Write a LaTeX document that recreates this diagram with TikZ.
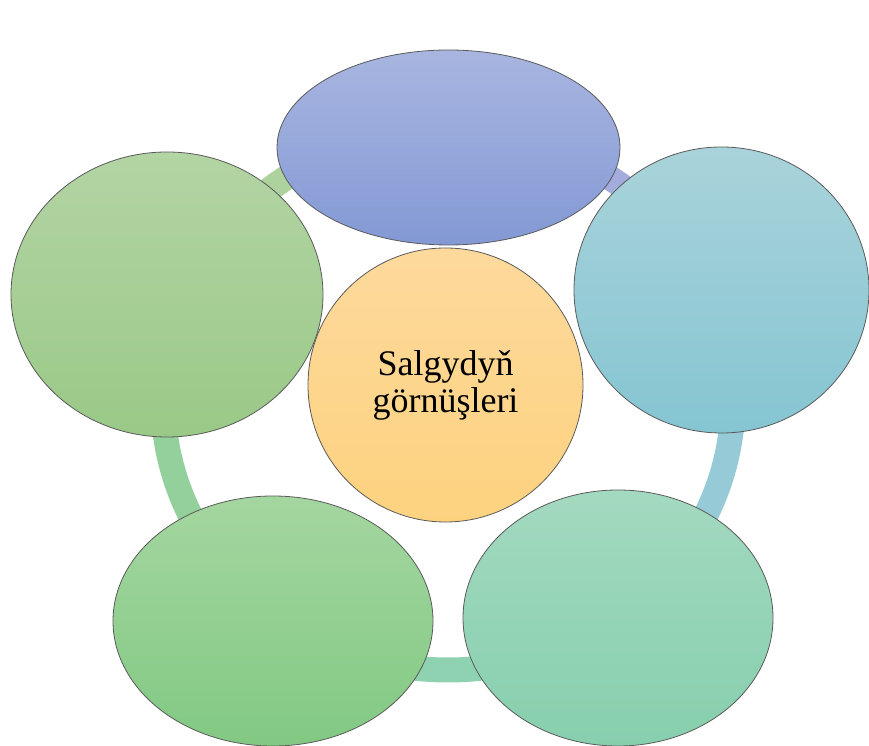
\documentclass[tikz,border=0pt]{standalone}
\usepackage{fontspec}
\setmainfont{Liberation Serif}
\usetikzlibrary{shapes.geometric}
\definecolor{ringTL}{HTML}{AED29E}
\definecolor{ringTR}{HTML}{A3ACDC}
\definecolor{ringR}{HTML}{96CAD6}
\definecolor{ringB}{HTML}{8ED2B2}
\definecolor{ringL}{HTML}{94D09C}
\definecolor{edge}{HTML}{5A5A5A}
\tikzset{
  blob/.style={ellipse, draw=edge, line width=0.8pt, inner sep=0pt},
  ringseg/.style={line width=25pt, line cap=butt},
}
\begin{document}
\begin{tikzpicture}[x=1pt,y=1pt]
\useasboundingbox (0,0) rectangle (869,746);
\coordinate (rc) at (448,346);
% ring segments
\draw[ringseg, ringTR] ([shift={(18:285pt and 270pt)}]rc) arc[start angle=18, end angle=90, x radius=285pt, y radius=270pt];
\draw[ringseg, ringTL] ([shift={(90:285pt and 270pt)}]rc) arc[start angle=90, end angle=162, x radius=285pt, y radius=270pt];
\draw[ringseg, ringL] ([shift={(162:285pt and 270pt)}]rc) arc[start angle=162, end angle=234, x radius=285pt, y radius=270pt];
\draw[ringseg, ringB] ([shift={(234:285pt and 270pt)}]rc) arc[start angle=234, end angle=306, x radius=285pt, y radius=270pt];
\draw[ringseg, ringR] ([shift={(306:285pt and 270pt)}]rc) arc[start angle=306, end angle=378, x radius=285pt, y radius=270pt];
% outer nodes
\node[blob, minimum width=343pt, minimum height=195pt, top color={rgb,255:red,168;green,181;blue,224}, bottom color={rgb,255:red,131;green,153;blue,212}] (top) at (448.5,598.5) {};
\node[blob, minimum width=295pt, minimum height=286pt, top color={rgb,255:red,169;green,211;blue,218}, bottom color={rgb,255:red,133;green,197;blue,210}] (right) at (721.5,456) {};
\node[blob, minimum width=310pt, minimum height=256pt, top color={rgb,255:red,163;green,217;blue,192}, bottom color={rgb,255:red,134;green,207;blue,173}] (bright) at (618,128) {};
\node[blob, minimum width=320pt, minimum height=250pt, top color={rgb,255:red,164;green,214;blue,160}, bottom color={rgb,255:red,130;green,201;blue,131}] (bleft) at (273,125) {};
\node[blob, minimum width=312pt, minimum height=285pt, top color={rgb,255:red,179;green,212;blue,164}, bottom color={rgb,255:red,154;green,201;blue,135}] (left) at (167,451.5) {};
% centre
\node[blob, minimum width=275pt, minimum height=274pt, top color={rgb,255:red,253;green,217;blue,156}, bottom color={rgb,255:red,253;green,210;blue,127}, align=center, font=\fontsize{36}{37}\selectfont] (centre) at (445.5,361) {Salgydyň\\görnüşleri};
\end{tikzpicture}
\end{document}
